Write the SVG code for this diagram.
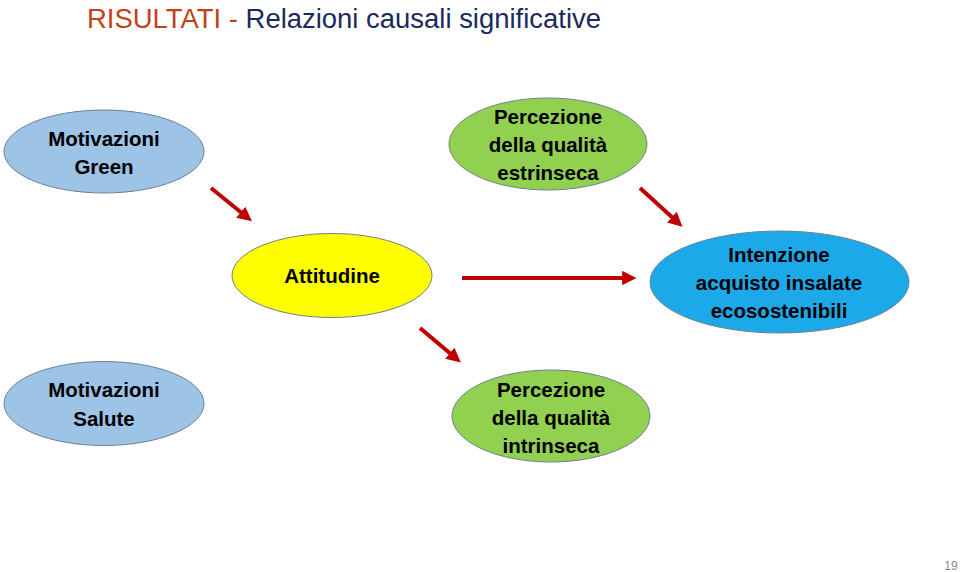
<svg xmlns="http://www.w3.org/2000/svg" width="960" height="572" viewBox="0 0 960 572">
<style>
.node{stroke:#6f7f8f;stroke-width:1}
.lbl{font-family:"Liberation Sans",Arial,sans-serif;font-weight:bold;font-size:20.5px;fill:#000;text-anchor:middle}
.conn{stroke:#C00000;stroke-width:4;fill:none;marker-end:url(#ah)}
</style>
<defs>
<marker id="ah" viewBox="0 0 10 10" refX="2" refY="5" markerWidth="3.6" markerHeight="3.6" orient="auto" markerUnits="strokeWidth">
<path d="M0,0 L10,5 L0,10 z" fill="#C00000"/>
</marker>
</defs>
<rect width="960" height="572" fill="#fff"/>
<text x="87" y="28" font-family="'Liberation Sans',Arial,sans-serif" font-size="27" textLength="514" lengthAdjust="spacingAndGlyphs"><tspan fill="#C4411A">RISULTATI - </tspan><tspan fill="#1B2A5C">Relazioni causali significative</tspan></text>
<g id="connectors">
<line class="conn" x1="211" y1="188" x2="243" y2="214"/>
<line class="conn" x1="640" y1="188" x2="674" y2="219"/>
<line class="conn" x1="462" y1="278" x2="625" y2="278"/>
<line class="conn" x1="420" y1="328" x2="452" y2="355"/>
</g>
<g id="motivazioni-green">
<ellipse class="node" cx="104" cy="151.5" rx="100" ry="41.5" fill="#9DC3E6"/>
<text class="lbl" x="104" y="146">Motivazioni</text>
<text class="lbl" x="104" y="174">Green</text>
</g>
<g id="percezione-estrinseca">
<ellipse class="node" cx="548" cy="144" rx="99" ry="46" fill="#92D050"/>
<text class="lbl" x="548" y="124">Percezione</text>
<text class="lbl" x="548" y="152">della qualità</text>
<text class="lbl" x="548" y="180">estrinseca</text>
</g>
<g id="attitudine">
<ellipse class="node" cx="332" cy="275.5" rx="100" ry="42" fill="#FFFF00"/>
<text class="lbl" x="332" y="283">Attitudine</text>
</g>
<g id="intenzione">
<ellipse class="node" cx="779.5" cy="282" rx="129.5" ry="51" fill="#1CA9EA"/>
<text class="lbl" x="779" y="262">Intenzione</text>
<text class="lbl" x="779" y="290">acquisto insalate</text>
<text class="lbl" x="779" y="318">ecosostenibili</text>
</g>
<g id="motivazioni-salute">
<ellipse class="node" cx="104" cy="403.5" rx="100" ry="42" fill="#9DC3E6"/>
<text class="lbl" x="104" y="397">Motivazioni</text>
<text class="lbl" x="104" y="426">Salute</text>
</g>
<g id="percezione-intrinseca">
<ellipse class="node" cx="551" cy="416" rx="99" ry="46" fill="#92D050"/>
<text class="lbl" x="551" y="397">Percezione</text>
<text class="lbl" x="551" y="425">della qualità</text>
<text class="lbl" x="551" y="453">intrinseca</text>
</g>
<text x="951" y="570" font-family="'Liberation Sans',Arial,sans-serif" font-size="12" fill="#8a8a8a" text-anchor="middle">19</text>
</svg>
